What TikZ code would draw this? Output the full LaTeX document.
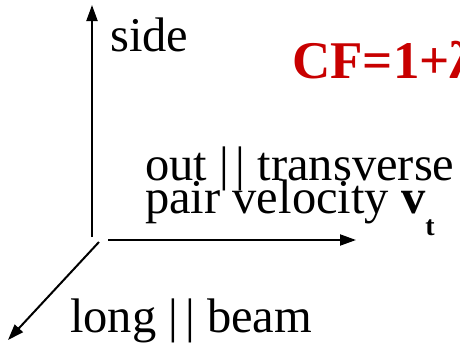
\documentclass[tikz,border=0pt]{standalone}
\usepackage{fontspec}
\setmainfont{Liberation Serif}
\usetikzlibrary{arrows.meta}
\definecolor{cfred}{RGB}{200,0,0}
\newcommand{\bars}{|\hspace{7pt}|}
\tikzset{
  axis/.style={line width=2pt,-{Triangle[length=16pt,width=11pt]}},
  lbl/.style={inner sep=0pt,anchor=base west,font=\fontsize{48.5}{48.5}\selectfont},
}
\begin{document}
\begin{tikzpicture}[x=1pt,y=-1pt]
\useasboundingbox (0,0) rectangle (460,343);
\clip (0,0) rectangle (460,343);
\coordinate (vs) at (92,237);
\coordinate (ve) at (92,5);
\coordinate (hs) at (108,240);
\coordinate (he) at (356,240);
\coordinate (ds) at (99,242);
\coordinate (de) at (8,340);
\draw[axis] (vs) -- (ve);
\draw[axis] (hs) -- (he);
\draw[axis] (ds) -- (de);
\node[lbl] (side) at (110,51) {side};
\node[lbl] (out) at (145,180) {out \bars{} transverse};
\node[lbl] (pair) at (145,213) {pair velocity \textbf{v}\raisebox{-22pt}{\fontsize{28}{28}\selectfont\bfseries t}};
\node[lbl] (long) at (70,332) {long \bars{} beam};
\node[lbl,text=cfred,font=\fontsize{53}{53}\selectfont\bfseries] (cf) at (292,78) {CF=1+λ};
\end{tikzpicture}
\end{document}
